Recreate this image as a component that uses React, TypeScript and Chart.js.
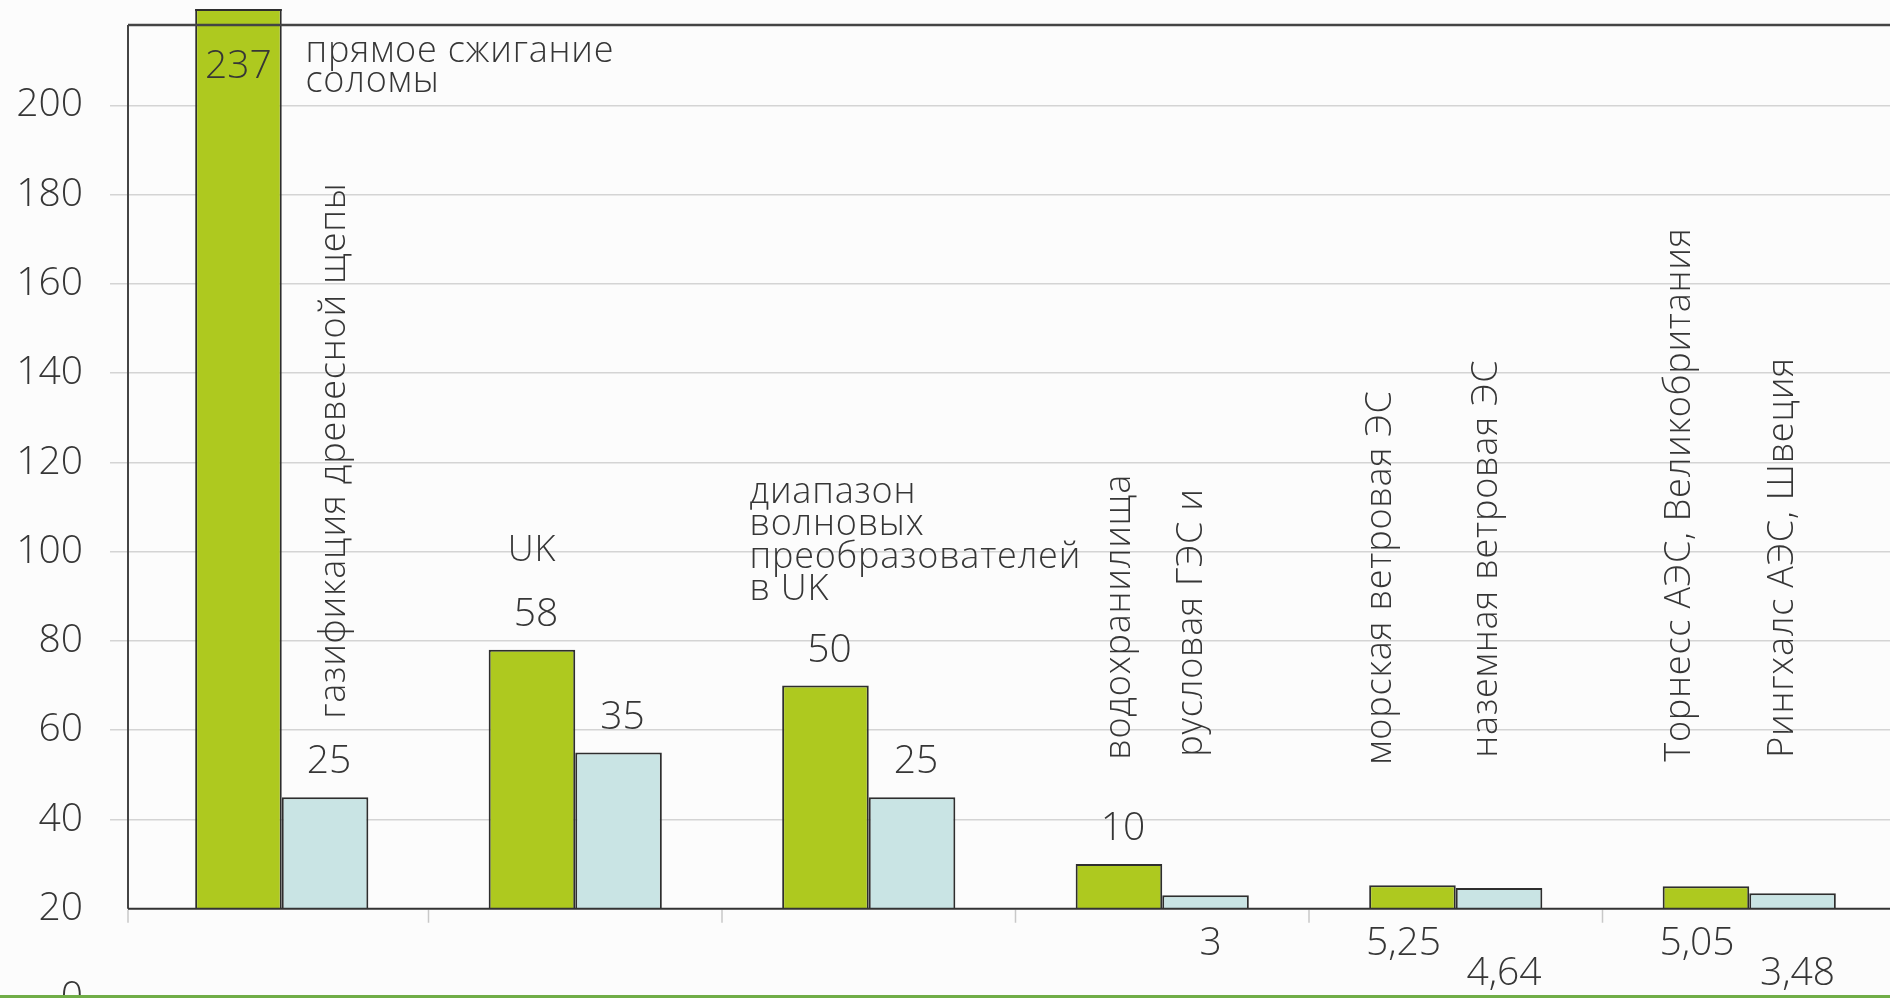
import React, { useEffect, useRef } from 'react';
import { Chart, registerables } from 'chart.js';

Chart.register(...registerables);

// ---- data ----
const CATEGORIES = ['солома и щепа', 'UK', 'волновые преобразователи', 'ГЭС', 'ветровые ЭС', 'АЭС'];
const GREEN_VALUES = [237, 58, 50, 10, 5.25, 5.05];
const BLUE_VALUES = [25, 35, 25, 3, 4.64, 3.48];
const GREEN_NAMES = [
  'прямое сжигание\nсоломы',
  'UK',
  'диапазон\nволновых\nпреобразователей\nв UK',
  'водохранилища',
  'морская ветровая ЭС',
  'Торнесс АЭС, Великобритания',
];
const BLUE_NAMES = ['газификация древесной щепы', '', '', 'русловая ГЭС и', 'наземная ветровая ЭС', 'Рингхалс АЭС, Швеция'];
const Y_TICK_VALUES = [-20, 0, 20, 40, 60, 80, 100, 120, 140, 160, 180];
const Y_TICK_LABELS = ['0', '20', '40', '60', '80', '100', '120', '140', '160', '180', '200'];

// ---- styling / layout ----
const GREEN = '#aec91f';
const BLUE = '#c9e4e4';
const BAR_EDGE = '#2e2e2e';
const TEXT = '#363636';
const GRID = '#d4d4d4';
const FONT = '"Open Sans", "DejaVu Sans", sans-serif';
const Y_MIN = -20;
const Y_MAX = 198;
const TOP_OVERFLOW = 16; // how far a bar may rise above the plot frame
const SMALL_VALUE = 8; // bars below this get their value printed under the axis

type Placement = { rotated: boolean; align?: CanvasTextAlign; dx: number; dy: number; lineHeight?: number } | null;

// dx: from bar centre, dy: first baseline relative to the zero line
const GREEN_NAME_PLACEMENT: Placement[] = [
  { rotated: false, align: 'left', dx: 67, dy: -847, lineHeight: 30 },
  { rotated: false, align: 'center', dx: 0, dy: -348 },
  { rotated: false, align: 'left', dx: -76, dy: -406, lineHeight: 32.5 },
  { rotated: true, dx: 11, dy: -149 },
  { rotated: true, dx: -21, dy: -144 },
  { rotated: true, dx: -16, dy: -147 },
];
const BLUE_NAME_PLACEMENT: Placement[] = [
  { rotated: true, dx: 20, dy: -190 },
  null,
  null,
  { rotated: true, dx: -4, dy: -152 },
  { rotated: true, dx: -2, dy: -151 },
  { rotated: true, dx: 0, dy: -151 },
];

const fmt = (v: number) => String(v).replace('.', ',');

const overlayPlugin = {
  id: 'overlay',
  afterDatasetsDraw(chart: any) {
    const { ctx, chartArea, scales } = chart;
    const y = scales.y;
    const x = scales.x;
    const yZero = y.getPixelForValue(0);
    const frameLeft = chartArea.left - 7;
    const clipTop = chartArea.top - TOP_OVERFLOW;
    const step = x.getPixelForValue(1) - x.getPixelForValue(0);

    ctx.save();

    // category separators below the axis
    ctx.strokeStyle = '#c8c8c8';
    ctx.lineWidth = 1.5;
    for (let i = 0; i <= CATEGORIES.length; i++) {
      const px = i === 0 ? frameLeft : x.getPixelForValue(i) - step / 2;
      ctx.beginPath();
      ctx.moveTo(px, yZero + 1);
      ctx.lineTo(px, yZero + 14);
      ctx.stroke();
    }

    // plot frame (left + top) and the category axis line
    ctx.strokeStyle = '#444';
    ctx.lineWidth = 2;
    ctx.beginPath();
    ctx.moveTo(frameLeft, yZero);
    ctx.lineTo(frameLeft, chartArea.top);
    ctx.stroke();
    ctx.lineWidth = 2.5;
    ctx.beginPath();
    ctx.moveTo(frameLeft, chartArea.top);
    ctx.lineTo(chart.width, chartArea.top);
    ctx.stroke();
    ctx.strokeStyle = '#333';
    ctx.lineWidth = 2;
    ctx.beginPath();
    ctx.moveTo(frameLeft, yZero);
    ctx.lineTo(chart.width, yZero);
    ctx.stroke();

    const valueSets = [GREEN_VALUES, BLUE_VALUES];
    const nameSets = [GREEN_NAMES, BLUE_NAMES];
    const placements = [GREEN_NAME_PLACEMENT, BLUE_NAME_PLACEMENT];

    valueSets.forEach((values, d) => {
      const meta = chart.getDatasetMeta(d);
      values.forEach((v, i) => {
        const bar = meta.data[i];
        const bx = bar.x;

        // value labels
        ctx.fillStyle = TEXT;
        ctx.font = `300 39px ${FONT}`;
        (ctx as any).letterSpacing = '0px';
        ctx.textBaseline = 'alphabetic';
        ctx.textAlign = 'center';
        if (v > Y_MAX) {
          // bar runs past the frame: close it off and print the value inside
          ctx.strokeStyle = BAR_EDGE;
          ctx.lineWidth = 2;
          ctx.beginPath();
          ctx.moveTo(bx - bar.width / 2, clipTop + 1);
          ctx.lineTo(bx + bar.width / 2, clipTop + 1);
          ctx.stroke();
          ctx.fillText(fmt(v), bx, clipTop + 69);
        } else if (v >= SMALL_VALUE) {
          ctx.fillText(fmt(v), bx + 4, bar.y - 24);
        } else {
          const partnerSmall = d === 1 && GREEN_VALUES[i] < SMALL_VALUE;
          const row = partnerSmall ? 1 : 0;
          const dx = d === 0 ? -9 : 5;
          ctx.fillText(fmt(v), bx + dx, yZero + 46 + row * 30);
        }

        // names
        const name = nameSets[d][i];
        const p = placements[d][i];
        if (!name || !p) return;
        ctx.font = `300 36px ${FONT}`;
        (ctx as any).letterSpacing = '0.8px';
        if (p.rotated) {
          ctx.save();
          ctx.translate(bx + p.dx, yZero + p.dy);
          ctx.rotate(-Math.PI / 2);
          ctx.textAlign = 'left';
          ctx.fillText(name, 0, 0);
          ctx.restore();
        } else {
          ctx.textAlign = p.align || 'left';
          const lh = p.lineHeight || 32;
          name.split('\n').forEach((line, k) => {
            ctx.fillText(line, bx + p.dx, yZero + p.dy + k * lh);
          });
        }
      });
    });

    ctx.restore();
  },
};

export default function App() {
  const ref = useRef<HTMLCanvasElement>(null);

  useEffect(() => {
    if (!ref.current) return;
    const clip = { left: 0, right: 0, top: TOP_OVERFLOW, bottom: 0 };
    const chart = new Chart(ref.current, {
      type: 'bar',
      data: {
        labels: CATEGORIES,
        datasets: [
          {
            data: GREEN_VALUES,
            backgroundColor: GREEN,
            borderColor: BAR_EDGE,
            borderWidth: 2,
            categoryPercentage: 0.59,
            barPercentage: 1,
            clip: clip as any,
          },
          {
            data: BLUE_VALUES,
            backgroundColor: BLUE,
            borderColor: BAR_EDGE,
            borderWidth: 2,
            categoryPercentage: 0.59,
            barPercentage: 1,
            clip: clip as any,
          },
        ],
      },
      options: {
        responsive: false,
        maintainAspectRatio: false,
        animation: false,
        devicePixelRatio: 1,
        layout: { padding: { top: 25, bottom: 42, left: 0, right: 24 } },
        plugins: {
          legend: { display: false },
          tooltip: { enabled: false },
        },
        scales: {
          x: { type: 'category', display: false },
          y: {
            min: Y_MIN,
            max: Y_MAX,
            afterBuildTicks: (s: any) => {
              s.ticks = Y_TICK_VALUES.map((value) => ({ value }));
            },
            afterFit: (s: any) => {
              s.width = 135;
              s.paddingTop = 0;
              s.paddingBottom = 0;
            },
            border: { display: false },
            grid: {
              color: (c: any) => (c.tick && c.tick.value > 0 ? GRID : 'rgba(0,0,0,0)'),
              lineWidth: 1.5,
              tickLength: 25,
              drawTicks: true,
            },
            ticks: {
              autoSkip: false,
              padding: 27,
              color: TEXT,
              font: { family: FONT, size: 39, weight: '300' as any },
              callback: (_v: any, index: number) => Y_TICK_LABELS[index] ?? '',
            },
          },
        },
      },
      plugins: [overlayPlugin],
    });
    return () => chart.destroy();
  }, []);

  return (
    <div
      style={{
        position: 'fixed',
        left: 0,
        top: 0,
        width: 1890,
        height: 998,
        overflow: 'hidden',
        background: '#fcfcfc',
      }}
    >
      <canvas ref={ref} width={1920} height={1040} style={{ display: 'block', width: 1920, height: 1040 }} />
      <div style={{ position: 'absolute', left: 0, right: 0, top: 995, height: 3, background: '#70ad47' }} />
    </div>
  );
}
